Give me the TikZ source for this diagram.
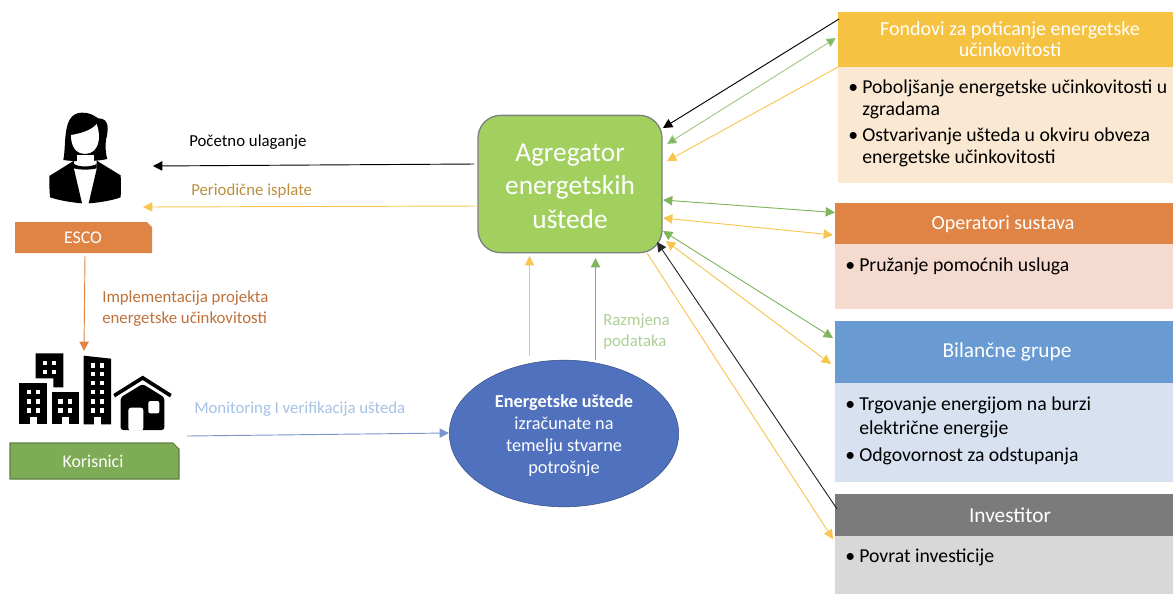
\documentclass[tikz,border=0pt]{standalone}
\usepackage{fontspec}
\setmainfont{Carlito}
\usetikzlibrary{arrows.meta,shapes.geometric}
\definecolor{fondc}{HTML}{F5C242}
\definecolor{fondb}{HTML}{FBE8D2}
\definecolor{opc}{HTML}{E08445}
\definecolor{opb}{HTML}{F5DAD0}
\definecolor{bilc}{HTML}{6A9AD2}
\definecolor{bilb}{HTML}{D8E1F0}
\definecolor{invc}{HTML}{7B7B7B}
\definecolor{invb}{HTML}{D8D8D8}
\definecolor{zut}{HTML}{F8C550}
\definecolor{zel}{HTML}{7FB55C}
\definecolor{agrc}{HTML}{A1D05F}
\definecolor{elc}{HTML}{4F71BE}
\definecolor{korc}{HTML}{7EAB55}
\tikzset{
 glava/.style={text=white,align=center,font=\fontsize{15}{15.8}\selectfont},
 glavaw/.style={text=white,align=center,font=\fontsize{16}{16}\selectfont},
 stavke/.style={anchor=north west,inner sep=0pt,align=left,font=\fontsize{14.8}{16.5}\selectfont},
 natpis/.style={inner sep=0pt,align=left,font=\fontsize{12.6}{15.8}\selectfont},
 jedan/.style={-{Triangle[length=7pt,width=7pt]},line width=.7pt},
 dva/.style={{Triangle[length=7pt,width=7pt]}-{Triangle[length=7pt,width=7pt]},line width=.7pt}
}
\newcommand{\stavka}{\llap{•\hspace{3pt}}}
\begin{document}
\begin{tikzpicture}[x=.75pt,y=-.75pt]
\useasboundingbox (0,0) rectangle (1173,594);

% kutije desno
\fill [fondc] (838,12) rectangle (1173,67);
\fill [fondb] (838,67) rectangle (1173,183);
\fill [opc] (835,203) rectangle (1173,244);
\fill [opb] (835,244) rectangle (1173,309);
\fill [bilc] (835,321) rectangle (1173,383);
\fill [bilb] (835,383) rectangle (1173,482);
\fill [invc] (835,494) rectangle (1173,536);
\fill [invb] (835,536) rectangle (1173,594);

\node (fond) [glava] at (1010,39.5) {Fondovi za poticanje energetske\\učinkovitosti};
\node (op) [glava] at (1003,224.5) {Operatori sustava};
\node (bil) [glavaw] at (1007,352) {Bilančne grupe};
\node (inv) [glavaw] at (1010,515) {Investitor};

\node (fondt) [stavke] at (862,79.5) {\stavka Poboljšanje energetske učinkovitosti u\\zgradama\\[3pt]\stavka Ostvarivanje ušteda u okviru obveza\\energetske učinkovitosti};
\node (opt) [stavke] at (859,258) {\stavka Pružanje pomoćnih usluga};
\node (bilt) [stavke,font=\fontsize{14.8}{18}\selectfont] at (859,396.5) {\stavka Trgovanje energijom na burzi\\električne energije\\[2pt]\stavka Odgovornost za odstupanja};
\node (invt) [stavke] at (859,549) {\stavka Povrat investicije};

% sredina
\node (agr) [draw=black!50,line width=1pt,fill=agrc,rounded corners=17pt,minimum width=138pt,minimum height=103pt] at (570,184) {};
\node (agrt) [text=white,align=center,font=\fontsize{20.5}{25}\selectfont] at (570,186) {Agregator\\energetskih\\uštede};
\node (ust) [ellipse,draw=elc!70!black,fill=elc,minimum width=172pt,minimum height=110pt,inner sep=0pt] at (564,433.5) {};
\node (ustt) [text=white,align=center,font=\fontsize{13.7}{16.5}\selectfont] at (564,435.5) {\textbf{Energetske uštede}\\izračunate na\\temelju stvarne\\potrošnje};

% lijevo
\fill [opc] (15,222) -- (147,222) -- (152,227) -- (152,253) -- (15,253) -- cycle;
\node (esco) [text=white,font=\fontsize{13.4}{15}\selectfont] at (83,238) {ESCO};
\filldraw [fill=korc,draw=korc!75!black,line width=.8pt] (10,443) -- (173,443) -- (179,449) -- (179,479) -- (10,479) -- cycle;
\node (kor) [text=white,font=\fontsize{13.4}{15}\selectfont] at (93,461) {Korisnici};

% osoba
\begin{scope}[shift={(0,90)},scale=1/3]
\fill (190,210) .. controls (200,160) and (185,70) .. (245,68) .. controls (275,68) and (285,80) .. (295,85) .. controls (330,85) and (325,120) .. (318,150) .. controls (315,175) and (318,195) .. (322,207) .. controls (290,215) and (220,215) .. (190,210) -- cycle;
\fill [white] (213,135) .. controls (245,130) and (275,120) .. (290,102) .. controls (300,130) and (300,160) .. (285,178) .. controls (270,196) and (240,196) .. (225,178) .. controls (215,165) and (213,150) .. (213,135) -- cycle;
\fill [white] (230,195) rectangle (282,216);
\fill (222,222) .. controls (240,232) and (270,232) .. (290,222) -- (290,235) .. controls (270,240) and (240,240) .. (222,235) -- cycle;
\fill (222,212) -- (148,258) .. controls (148,280) and (148,300) .. (150,322) .. controls (180,332) and (220,338) .. (246,340) -- (222,237) -- cycle;
\fill (290,212) -- (362,256) .. controls (363,280) and (363,300) .. (362,322) .. controls (335,332) and (295,338) .. (266,340) -- (290,237) -- cycle;
\end{scope}

% zgrade
\begin{scope}[shift={(0,340)},scale=1/3]
\fill (107,40) -- (190,40) -- (190,142) -- (160,142) -- (160,115) -- (107,115) -- cycle;
\fill (58,130) rectangle (142,253);
\fill (155,157) rectangle (238,253);
\fill (251,47) -- (333,56) -- (333,253) -- (251,253) -- cycle;
\foreach \x in {128,155} \foreach \y in {62,90} \fill [white] (\x,\y) rectangle +(13,13);
\foreach \x in {80,107} \foreach \y in {150,178,205} \fill [white] (\x,\y) rectangle +(13,13);
\foreach \x in {175,203} \foreach \y in {178,205} \fill [white] (\x,\y) rectangle +(13,13);
\foreach \x in {272,299} {
  \foreach \y in {70,95,122,150,178,205} \fill [white] (\x,\y) rectangle +(13,13);
}
\foreach \x in {89,185,281} \fill [white] (\x,232) rectangle +(22,22);
\fill (345,172) -- (428,120) -- (510,172) -- (515,162) -- (428,107) -- (340,162) -- cycle;
\fill [rounded corners=2pt] (362,172) -- (428,132) -- (493,172) -- (493,270) -- (362,270) -- cycle;
\fill [white,rounded corners=2pt] (385,272) -- (385,203) -- (430,203) -- (430,272) -- cycle;
\fill [white,rounded corners=1.5pt] (445,183) rectangle (478,220);
\end{scope}

% krajevi veza
\foreach \ime/\x/\y in {a1/663/128,b1/839/19,a2/667/144,b2/836/38,a3/667/161,b3/838/67,
  a4/663/200,b4/835/212.5,a5/663/218,b5/833/235,a6/663/231,b6/833/338,a7/666/241,b7/831/364,
  a8/647/253,b8/833/539,a9/657/242,b9/837/509,
  l1/474/164,l2/153/166,l3/478/206,l4/143/207,e1/85/256,e2/84/351,k1/187/436,k2/449/433,
  u1/529.5/356,u2/529.5/256,u3/595.5/360,u4/595.5/258}
  \coordinate (\ime) at (\x,\y);

\draw [jedan] (b1) -- (a1);
\draw [dva,draw=zel!75,{Triangle[length=7pt,width=7pt,fill=zel]}-{Triangle[length=7pt,width=7pt,fill=zel]}] (a2) -- (b2);
\draw [jedan,draw=zut] (b3) -- (a3);
\draw [dva,draw=zel] (a4) -- (b4);
\draw [dva,draw=zut] (a5) -- (b5);
\draw [dva,draw=zel] (a6) -- (b6);
\draw [dva,draw=zut] (a7) -- (b7);
\draw [jedan,draw=zut] (a8) -- (b8);
\draw [jedan,draw=black!85] (b9) -- (a9);

\draw [jedan] (l1) -- (l2);
\draw [jedan,draw=zut] (l3) -- (l4);
\draw [jedan,draw=opc] (e1) -- (e2);
\draw [jedan,draw=elc!75!white] (k1) -- (k2);
\draw [jedan,draw=zut] (u1) -- (u2);
\draw [jedan,draw=zel] (u3) -- (u4);

% natpisi
\node (pocetno) [natpis,anchor=west] at (189,142) {Početno ulaganje};
\node (isplate) [natpis,anchor=west,text=black!25!zut!80!brown] at (191,191) {Periodične isplate};
\node (impl) [natpis,anchor=west,text=opc!85!black] at (102,309) {Implementacija projekta\\energetske učinkovitosti};
\node (monit) [natpis,anchor=west,text=bilc!60!white] at (194,409) {Monitoring I verifikacija ušteda};
\node (razmj) [natpis,anchor=west,text=zel!65!white] at (603,332) {Razmjena\\podataka};

\end{tikzpicture}
\end{document}
